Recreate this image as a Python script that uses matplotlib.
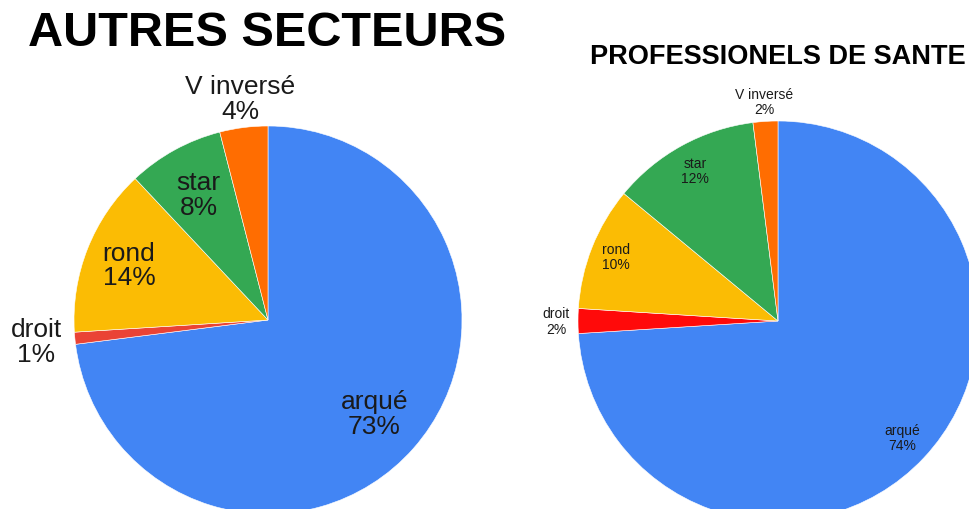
import numpy as np
import matplotlib
matplotlib.use("Agg")
import matplotlib.pyplot as plt

# Donnees (ordre des parts, sens horaire depuis midi)
categories = ["arqué", "droit", "rond", "star", "V inversé"]
autres_secteurs = [73, 1, 14, 8, 4]
pro_sante = [74, 2, 10, 12, 2]

colors_left = ["#4285F4", "#EA4335", "#FBBC04", "#34A853", "#FF6D01"]
colors_right = ["#4285F4", "#FF0a0a", "#FBBC04", "#34A853", "#FF6D01"]

# distance of each label from centre, in units of the radius
dist_left = [0.73, 1.20, 0.77, 0.74, 1.15]
dist_right = [0.85, 1.11, 0.87, 0.86, 1.10]

W, H = 970, 510
fig = plt.figure(figsize=(W / 100, H / 100), dpi=100)
ax = fig.add_axes([0, 0, 1, 1])
ax.set_xlim(0, W)
ax.set_ylim(0, H)
ax.set_aspect("equal")
ax.axis("off")

font = "Liberation Sans"


def draw_pie(values, colors, center, radius, dists, fsize, lspace):
    wedges, _ = ax.pie(values, colors=colors, startangle=90, counterclock=False,
                       center=center, radius=radius,
                       wedgeprops=dict(edgecolor="white", linewidth=0.4))
    for w, name, v, d in zip(wedges, categories, values, dists):
        mid = np.deg2rad((w.theta1 + w.theta2) / 2)
        x = center[0] + d * radius * np.cos(mid)
        y = center[1] + d * radius * np.sin(mid)
        ax.text(x, y, f"{name}\n{v}%", ha="center", va="center",
                fontsize=fsize, family=font, color="#1a1a1a",
                linespacing=lspace)


draw_pie(autres_secteurs, colors_left, (268, H - 321), 194, dist_left, 19, 1.05)
draw_pie(pro_sante, colors_right, (778, H - 322), 200, dist_right, 10, 1.1)

ax.set_xlim(0, W)
ax.set_ylim(0, H)

ax.text(267, H - 33, "AUTRES SECTEURS", ha="center", va="center",
        fontsize=35, fontweight="bold", family=font, color="black")
ax.text(778, H - 57, "PROFESSIONELS DE SANTE", ha="center", va="center",
        fontsize=19.5, fontweight="bold", family=font, color="black")

fig.savefig("out.png", dpi=100)
